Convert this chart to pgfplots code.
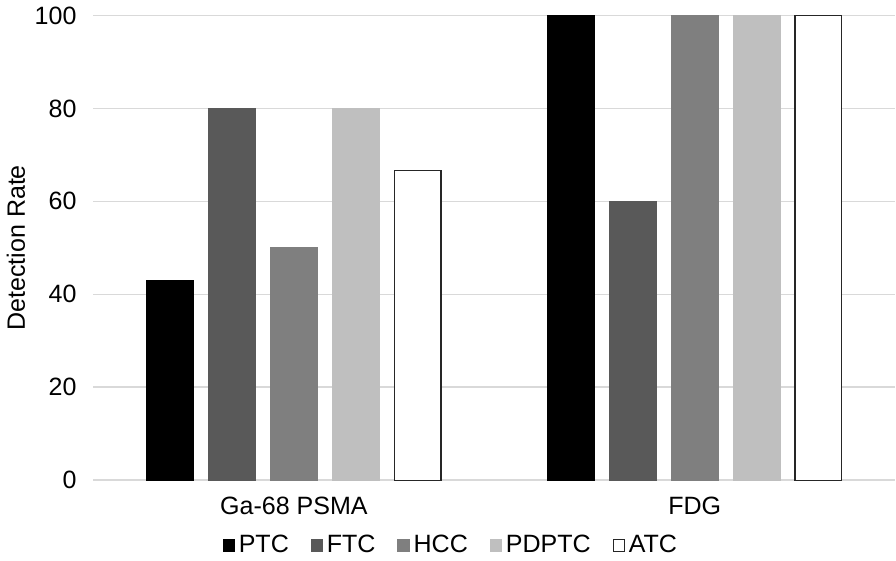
\documentclass[border=0pt]{standalone}
\usepackage{pgfplots}
\pgfplotsset{compat=1.18}
\usepackage{fontspec}
\setmainfont{Liberation Sans}
\definecolor{ftc}{HTML}{595959}
\definecolor{hcc}{HTML}{7F7F7F}
\definecolor{pdptc}{HTML}{BFBFBF}
\definecolor{gridc}{HTML}{D9D9D9}
\begin{document}
\begin{tikzpicture}
\begin{axis}[
  scale only axis,
  width=402bp, height=233bp,
  ybar=7.5bp, bar width=23.5bp,
  xmin=-0.5, xmax=1.5,
  ymin=0, ymax=100,
  ytick={0,20,...,100},
  xtick=data,
  xticklabels={Ga-68 PSMA, FDG},
  axis x line*=bottom, axis y line*=left,
  x axis line style={draw=gridc, line width=0.8pt},
  y axis line style={draw=none},
  ymajorgrids, grid style={gridc, line width=0.8pt},
  major tick length=0pt,
  tick label style={font=\fontsize{12.6}{14}\selectfont},
  /pgf/number format/assume math mode=true,
  yticklabel style={xshift=-5bp},
  xticklabel style={yshift=-5bp},
  ylabel={Detection Rate},
  ylabel style={font=\fontsize{12.6}{14}\selectfont, yshift=-2bp},
  legend style={draw=none, at={(0.447,-0.107)}, anchor=north,
    font=\fontsize{12.6}{14}\selectfont, legend columns=5,
    inner sep=0.5bp,
    /tikz/every even column/.append style={column sep=9bp}},
  legend image code/.code={\draw[#1, line width=0.5pt] (0bp,-2.8bp) rectangle (5.6bp,2.8bp);},
  legend cell align=left,
]
\addplot[fill=black, draw=black] coordinates {(0,42.9) (1,100)};
\addplot[fill=ftc, draw=ftc] coordinates {(0,80) (1,60)};
\addplot[fill=hcc, draw=hcc] coordinates {(0,50) (1,100)};
\addplot[fill=pdptc, draw=pdptc] coordinates {(0,80) (1,100)};
\addplot[fill=white, draw=black!85, line width=0.6pt] coordinates {(0,66.7) (1,100)};
\legend{PTC, FTC, HCC, PDPTC, ATC}
\end{axis}
\end{tikzpicture}
\end{document}
